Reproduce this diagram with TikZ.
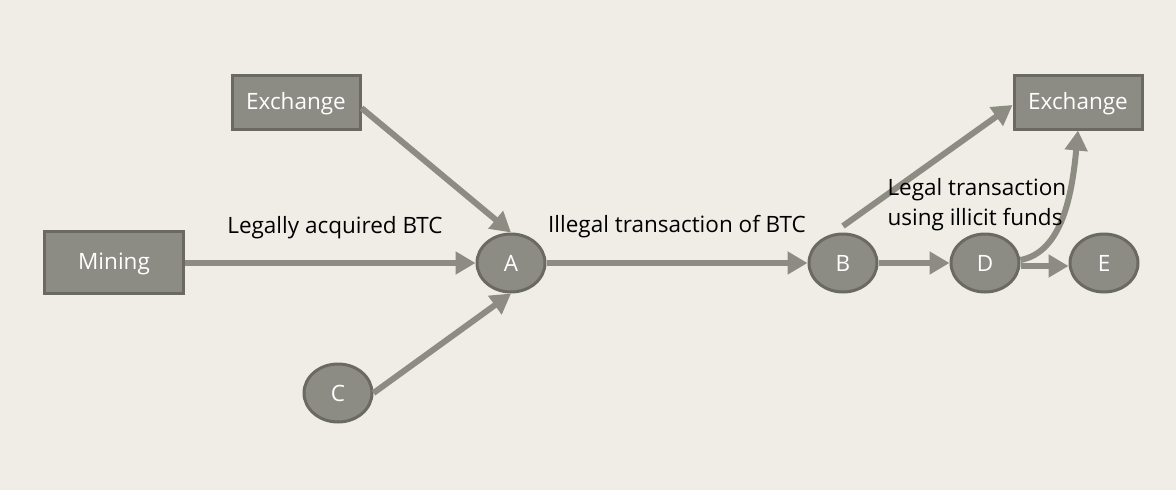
\documentclass[tikz,border=0pt]{standalone}
\usepackage{fontspec}
\setmainfont{Open Sans}
\usetikzlibrary{shapes.geometric, arrows.meta}
\definecolor{paper}{RGB}{239,237,229}
\definecolor{nodegrey}{RGB}{140,140,132}
\definecolor{edgegrey}{RGB}{106,106,98}
\definecolor{flowgrey}{RGB}{140,140,130}
\tikzstyle{source} = [rectangle, draw=edgegrey, line width=3pt, fill=nodegrey, text=white, minimum height=54pt, inner sep=0pt, text height=17pt, text depth=3pt, font=\fontsize{22.5}{26}\selectfont]
\tikzstyle{wallet} = [ellipse, draw=edgegrey, line width=3pt, fill=nodegrey, text=white, minimum width=68pt, minimum height=58pt, inner sep=0pt, font=\fontsize{22.5}{26}\selectfont]
\tikzstyle{flow} = [line width=6pt, draw=flowgrey, -{Triangle[length=20pt,width=22pt]}]
\tikzstyle{note} = [font=\fontsize{22.5}{30}\selectfont, text=black]

\begin{document}
\begin{tikzpicture}[x=1pt,y=-1pt]
\useasboundingbox[fill=paper] (0,0) rectangle (1176,490);
\node (exin) [source, minimum width=128pt] at (296,102) {Exchange};
\node (mining) [source, minimum width=139pt, minimum height=62pt] at (114,262) {Mining};
\node (A) [wallet] at (511,263) {A};
\node (C) [wallet] at (338,393) {C};
\node (B) [wallet] at (843,263) {B};
\node (D) [wallet] at (985,263) {D};
\node (E) [wallet] at (1104,263) {E};
\node (exout) [source, minimum width=128pt] at (1078,102) {Exchange};
\coordinate (Btop) at (843,226);
% flows into A
\draw[flow] (mining.east |- A.west) -- (A.west);
\draw[flow] ([yshift=-6pt]exin.east) -- (A.north);
\draw[flow] (C.east) -- (A.south);
% flows out of A
\draw[flow] (A.east) -- (B.west);
\draw[flow] (Btop) -- ([yshift=-3pt]exout.west);
\draw[flow] (B.east) -- (D.west);
\draw[flow] ([yshift=-3pt]D.east) -- ([yshift=-3pt]E.west);
\draw[flow] ([yshift=3pt]D.east) .. controls (1062,252) and (1072,195) .. (exout.south);
% labels
\node (lblegal) [note] at (335,228) {Legally acquired BTC};
\node (lbillegal) [note] at (677,227) {Illegal transaction of BTC};
\node (lbfunds) [note, align=left, anchor=west] at (884,205) {Legal transaction\\using illicit funds};
\end{tikzpicture}
\end{document}
